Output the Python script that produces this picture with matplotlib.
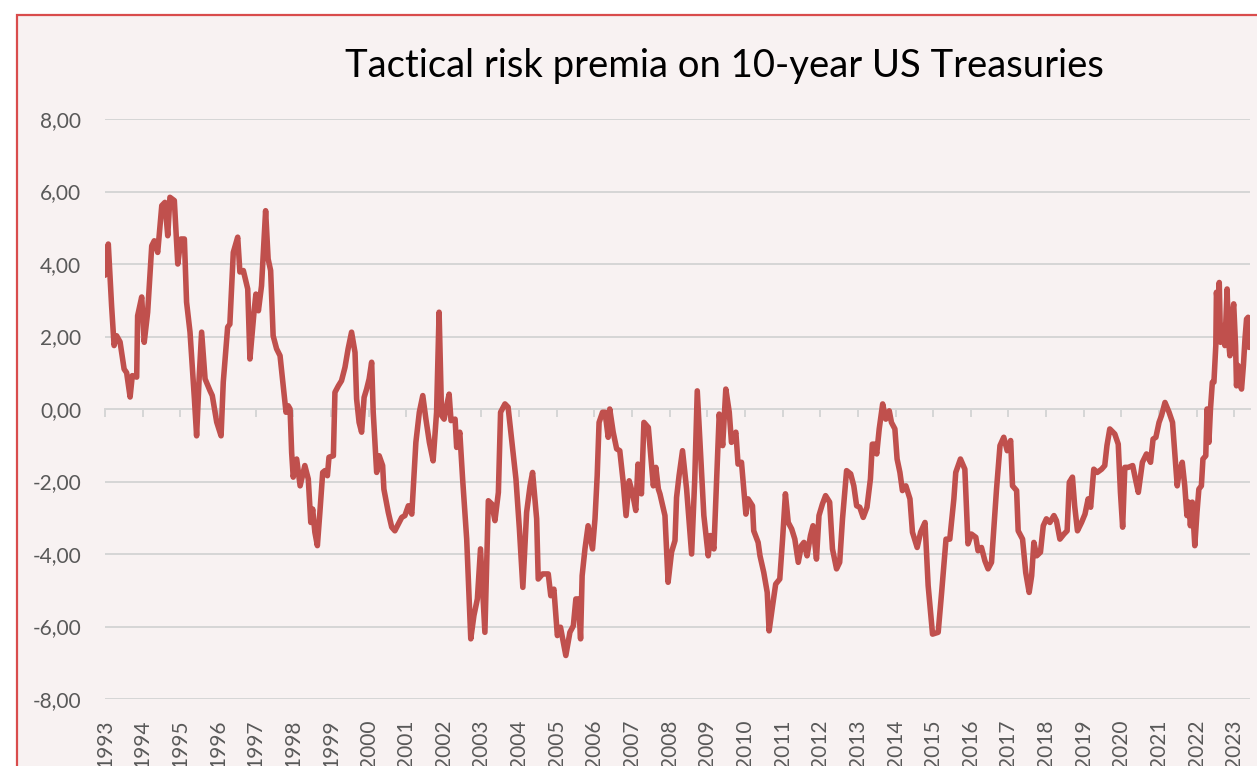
import matplotlib
matplotlib.use("Agg")
import matplotlib.pyplot as plt
from matplotlib.patches import Rectangle
from matplotlib.ticker import FuncFormatter

plt.rcParams['font.family'] = ['Lato', 'DejaVu Sans']

# ---- data (months since Jan 1993, premium in %) ----
months_since_1993 = [
    0, 1.05, 2.1, 2.9, 3.7, 4.8, 6.1, 6.9, 8.0, 8.7, 10.1, 10.4, 11.7, 12.5, 13.6, 14.9, 15.7, 16.8,
    18.1, 19.1, 20.0, 20.7, 22.1, 23.2, 24.2, 25.3, 26.0, 27.1, 28.5, 29.2, 30.0, 30.8, 31.9, 33.5,
    34.2, 35.6, 37.0, 37.7, 39.1, 39.8, 40.9, 42.3, 43.0, 44.1, 45.5, 46.2, 47.5, 48.1, 48.9, 49.9,
    51.2, 52.0, 52.8, 53.6, 54.7, 55.8, 56.8, 57.7, 58.4, 59.0, 59.5, 60.0, 61.1, 62.2, 63.7, 64.8,
    65.6, 66.2, 66.9, 67.7, 68.5, 69.4, 70.1, 70.9, 71.4, 72.8, 73.3, 74.4, 75.4, 76.5, 77.5, 78.6,
    79.7, 80.2, 81.0, 81.8, 82.6, 83.4, 84.2, 85.0, 85.5, 86.1, 86.6, 87.4, 88.5, 88.9, 90.3, 91.4,
    92.4, 94.6, 95.6, 96.7, 97.8, 99.1, 100.2, 101.3, 102.3, 103.4, 104.6, 105.7, 106.5, 107.3,
    108.1, 108.9, 109.7, 110.3, 111.6, 112.1, 113.1, 114.0, 115.3, 116.6, 117.6, 118.7, 119.7,
    121.1, 122.2, 123.3, 124.3, 125.4, 126.1, 127.5, 128.5, 129.6, 131.0, 132.1, 133.2, 134.4,
    135.5, 136.3, 137.6, 138.1, 139.5, 141.3, 142.1, 143.1, 144.2, 145.2, 146.9, 148.2, 149.3,
    150.1, 150.9, 151.6, 152.1, 153.0, 154.0, 155.4, 156.2, 156.9, 157.5, 158.6, 159.4, 160.4,
    160.9, 162.0, 163.1, 164.1, 165.2, 166.1, 167.1, 168.2, 169.2, 169.9, 171.0, 171.8, 173.2,
    174.8, 175.6, 176.4, 176.9, 178.5, 179.5, 180.6, 181.7, 182.2, 183.0, 184.1, 185.4, 187.0,
    188.0, 188.8, 190.9, 192.3, 193.0, 194.1, 195.8, 196.9, 197.9, 199.0, 199.7, 201.1, 201.8,
    202.9, 204.3, 205.0, 206.4, 206.8, 208.2, 208.8, 210.0, 211.1, 211.7, 212.8, 213.8, 215.1,
    216.0, 216.9, 217.8, 218.9, 219.9, 221.0, 222.0, 222.8, 223.8, 224.9, 225.7, 226.8, 227.6,
    228.7, 229.7, 231.0, 231.9, 233.2, 234.2, 235.1, 236.4, 237.7, 238.7, 239.6, 240.6, 241.7,
    242.9, 244.0, 244.6, 245.4, 246.0, 246.8, 247.9, 248.9, 250.0, 250.7, 251.8, 252.5, 253.4,
    254.2, 255.3, 256.6, 257.4, 258.9, 260.0, 261.4, 262.4, 263.8, 265.6, 266.7, 268.1, 269.3,
    270.6, 271.2, 272.7, 274.1, 275.1, 276.2, 277.6, 278.3, 279.4, 280.5, 281.5, 282.6, 284.2,
    285.3, 286.5, 287.6, 288.7, 289.3, 290.6, 291.1, 292.5, 293.5, 294.6, 295.4, 296.1, 297.0,
    298.2, 299.1, 300.1, 301.2, 302.5, 303.3, 304.4, 305.7, 306.7, 307.4, 308.4, 309.1, 310.0,
    311.3, 312.4, 313.4, 314.2, 315.2, 316.3, 317.7, 318.7, 319.4, 320.3, 321.9, 323.0, 323.7,
    324.4, 325.1, 326.2, 327.6, 328.6, 329.4, 330.7, 332.0, 333.3, 334.1, 335.0, 336.0, 336.8,
    337.9, 339.2, 340.3, 341.0, 341.8, 342.4, 343.4, 344.2, 344.9, 345.5, 346.0, 346.6, 347.4,
    348.1, 348.7, 349.5, 350.0, 350.9, 351.3, 351.9, 352.4, 353.0, 353.5, 354.1, 354.3, 354.8,
    355.2, 355.6, 356.4, 357.0, 357.7, 358.2, 358.6, 359.1, 359.8, 360.4, 360.7, 361.2, 361.8,
    362.3, 362.9, 363.4, 363.9, 364.4, 364.7,
]
risk_premia = [
    3.69, 4.55, 2.85, 1.75, 2.02, 1.85, 1.1, 1.0, 0.33, 0.92, 0.88, 2.57, 3.09, 1.84, 2.67, 4.5, 4.64, 4.32,
    5.61, 5.7, 4.78, 5.84, 5.75, 4.0, 4.69, 4.69, 2.95, 2.12, 0.28, -0.74, 0.83, 2.12, 0.83, 0.5,
    0.37, -0.36, -0.74, 0.74, 2.26, 2.34, 4.32, 4.74, 3.78, 3.82, 3.31, 1.38, 2.67, 3.17, 2.71, 3.4,
    5.47, 4.14, 3.82, 2.02, 1.66, 1.47, 0.64, -0.09, 0.09, 0.0, -1.2, -1.88, -1.38, -2.12, -1.56, -1.93,
    -3.13, -2.76, -3.4, -3.77, -2.85, -1.75, -1.7, -1.84, -1.33, -1.29, 0.46, 0.64, 0.78, 1.15, 1.66, 2.12,
    1.56, 0.28, -0.37, -0.64, 0.32, 0.55, 0.83, 1.29, -0.09, -1.01, -1.75, -1.29, -1.56, -2.21, -2.85, -3.26,
    -3.36, -2.99, -2.94, -2.67, -2.9, -0.92, -0.09, 0.37, -0.28, -0.92, -1.43, -0.09, 2.67, -0.18,
    -0.28, 0.09, 0.41, -0.32, -0.28, -1.06, -0.64, -1.93, -3.59, -6.34, -5.7, -5.24, -3.86,
    -6.16, -2.53, -2.62, -3.08, -2.3, -0.09, 0.14, 0.05, -0.83, -1.93, -3.31, -4.92, -2.85,
    -2.12, -1.75, -3.03, -4.69, -4.55, -4.55, -5.15, -4.97, -6.25, -6.02, -6.8, -6.16, -5.98,
    -5.24, -5.24, -6.34, -4.6, -3.86, -3.22, -3.86, -3.03, -1.84, -0.37, -0.09, -0.09, -0.78,
    0.0, -0.64, -1.1, -1.15, -2.02, -2.94, -1.98, -2.34, -2.8, -1.52, -2.34, -0.37, -0.51,
    -2.12, -1.61, -2.21, -2.34, -2.94, -4.78, -3.95, -3.63, -2.44, -1.84, -1.15, -2.21, -4.0,
    -1.93, 0.5, -2.94, -4.05, -3.49, -3.86, -0.14, -1.01, 0.55, -0.09, -0.92, -0.64, -1.52,
    -1.47, -2.9, -2.48, -2.67, -3.36, -3.68, -4.05, -4.51, -5.06, -6.12, -5.43, -4.83, -4.69,
    -3.59, -2.34, -3.13, -3.31, -3.59, -4.23, -3.77, -3.68, -4.05, -3.49, -3.22, -4.14, -2.94,
    -2.62, -2.39, -2.57, -3.86, -4.41, -4.23, -3.03, -1.7, -1.79, -2.12, -2.67, -2.71, -2.99,
    -2.71, -1.93, -0.97, -0.97, -1.24, -0.55, 0.14, -0.28, -0.05, -0.37, -0.55, -1.38, -1.75,
    -2.25, -2.12, -2.48, -3.4, -3.82, -3.4, -3.13, -4.87, -6.21, -6.16, -5.06, -3.59, -3.59,
    -2.48, -1.75, -1.38, -1.66, -3.72, -3.45, -3.54, -3.91, -3.82, -4.19, -4.41, -4.23, -2.21,
    -1.01, -0.78, -1.15, -0.87, -2.12, -2.25, -3.36, -3.59, -4.51, -5.06, -4.6, -3.68, -4.05,
    -3.95, -3.22, -3.03, -3.13, -2.94, -3.08, -3.59, -3.45, -3.36, -2.02, -1.88, -2.67, -3.36,
    -3.13, -2.9, -2.48, -2.71, -1.66, -1.75, -1.66, -1.56, -1.01, -0.55, -0.69, -0.97, -2.3,
    -3.26, -1.61, -1.61, -1.56, -1.98, -2.3, -1.47, -1.24, -1.47, -0.83, -0.78, -0.37, -0.18,
    0.18, -0.09, -0.37, -1.2, -2.12, -1.75, -1.47, -2.12, -2.94, -2.57, -3.22, -2.57, -3.77,
    -2.85, -2.21, -2.12, -1.38, -1.29, 0.0, -0.92, 0.0, 0.74, 0.74, 1.75, 3.22, 2.76,
    3.49, 1.84, 2.3, 1.75, 3.31, 1.84, 1.47, 2.48, 2.9, 1.75, 0.64, 1.2, 0.69,
    0.55, 1.2, 1.93, 2.48, 2.53, 1.7,
]
year_labels = ['1993', '1994', '1995', '1996', '1997', '1998', '1999', '2000', '2001', '2002',
               '2003', '2004', '2005', '2006', '2007', '2008', '2009', '2010', '2011', '2012',
               '2013', '2014', '2015', '2016', '2017', '2018', '2019', '2020', '2021', '2022', '2023']
y_ticks = [-8, -6, -4, -2, 0, 2, 4, 6, 8]
title = "Tactical risk premia on 10-year US Treasuries"

# ---- styling ----
W, H = 1257, 766
BG = '#F8F2F2'
BORDER = '#D94C4C'
GRID = '#D6D6D6'
TEXT = '#595959'
LINE = '#C0504D'

fig = plt.figure(figsize=(W / 100, H / 100), dpi=100, facecolor='white')
fig.patches.append(Rectangle((16.5 / W, -0.05), 1.2, 1 - 15.5 / H + 0.05,
                             transform=fig.transFigure, facecolor=BG,
                             edgecolor=BORDER, linewidth=1.6, zorder=-10))

ax = fig.add_axes([105 / W, (H - 699) / H, 1145 / W, 580 / H])
ax.set_facecolor('none')
ax.plot(months_since_1993, risk_premia, color=LINE, lw=4.0,
        solid_joinstyle='round', solid_capstyle='round', zorder=3)

ax.set_xlim(0, 365)
ax.set_ylim(-8, 8)
ax.set_yticks(y_ticks)
ax.yaxis.set_major_formatter(FuncFormatter(lambda v, _: f"{v:.2f}".replace('.', ',')))
ax.yaxis.grid(True, color=GRID, lw=1.4)
ax.set_axisbelow(True)
for s in ('top', 'right', 'left'):
    ax.spines[s].set_visible(False)
ax.spines['bottom'].set_position(('data', 0))
ax.spines['bottom'].set_color(GRID)
ax.spines['bottom'].set_linewidth(1.4)
ax.spines['bottom'].set_zorder(1)

tick_pos = [12 * i for i in range(len(year_labels))]
ax.set_xticks(tick_pos)
ax.tick_params(axis='x', direction='out', length=6, width=1.4, color=GRID, labelbottom=False)
ax.tick_params(axis='y', length=0, pad=17, labelsize=15, labelcolor=TEXT)

sec = ax.secondary_xaxis('bottom')
sec.set_xticks(tick_pos, labels=year_labels)
sec.tick_params(axis='x', length=0, pad=15, labelsize=15, labelcolor=TEXT, labelrotation=90)
sec.spines['bottom'].set_visible(False)

fig.text(724.5 / W, 1 - 66 / H, title, ha='center', va='center', fontsize=27.5, color='black')

fig.savefig('out.png', dpi=100, facecolor=fig.get_facecolor())
